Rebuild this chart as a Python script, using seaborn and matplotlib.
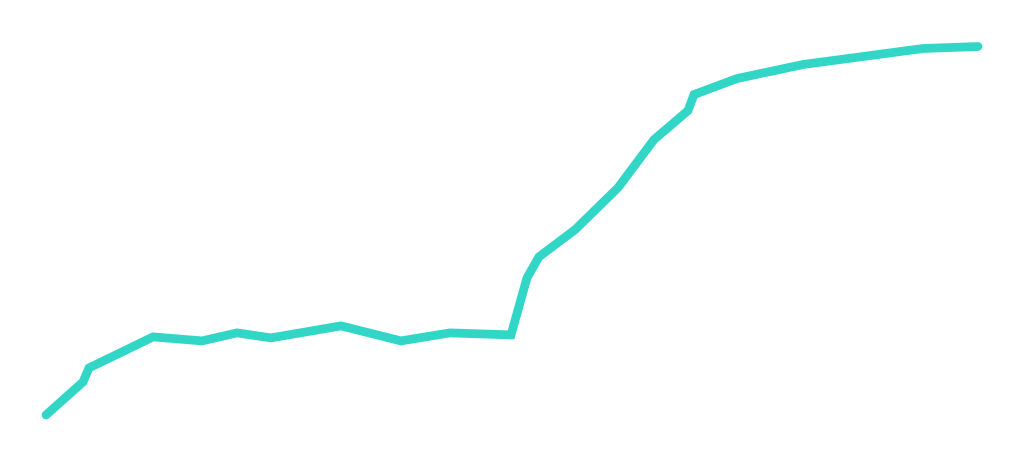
import numpy as np
import pandas as pd
import matplotlib
matplotlib.use("Agg")
import matplotlib.pyplot as plt
import seaborn as sns

# values (x: days, y: cumulative value)
days = [0, 37, 43, 107, 156, 191, 225, 295, 355, 404, 465, 481, 493, 529,
        572, 608, 642, 648, 691, 757, 877, 932]
values = [0, 33, 47, 78, 74, 82, 77, 89, 74, 82, 80, 137, 158, 185,
          227, 275, 304, 320, 336, 350, 366, 368]

df = pd.DataFrame({"day": days, "value": values})

sns.set_style("white")
fig = plt.figure(figsize=(10.24, 4.61), dpi=100)
ax = fig.add_axes([46 / 1024, (461 - 415) / 461, (978 - 46) / 1024, (415 - 46.5) / 461])

sns.lineplot(data=df, x="day", y="value", ax=ax, color="#32d6c6", linewidth=6.3,
             sort=False)
for line in ax.get_lines():
    line.set_solid_capstyle("round")
    line.set_solid_joinstyle("miter")
    line.set_clip_on(False)

ax.set_xlim(min(days), max(days))
ax.set_ylim(min(values), max(values))
ax.set_axis_off()

fig.savefig("out.png", dpi=100, facecolor="white")
